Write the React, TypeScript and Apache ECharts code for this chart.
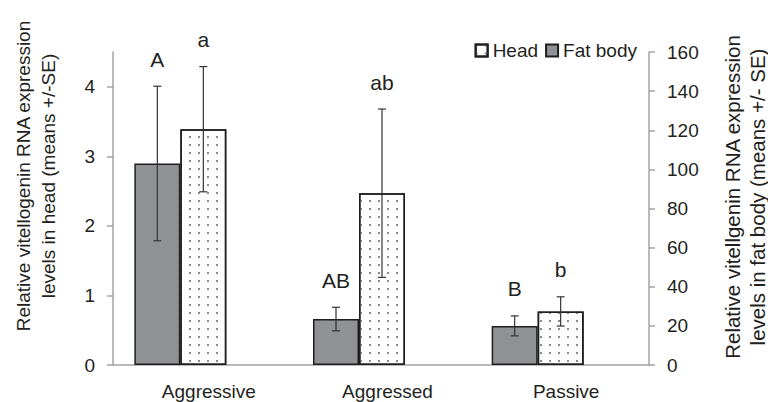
import React, { useEffect, useRef } from "react";
import * as echarts from "echarts";

const categories = ["Aggressive", "Aggressed", "Passive"];
const headValues = [3.39, 2.47, 0.77];
const headErrors = [0.9, 1.21, 0.21];
const headLetters = ["a", "ab", "b"];
const fatValues = [103, 23.5, 20];
const fatErrors = [39.5, 6, 5.1];
const fatLetters = ["A", "AB", "B"];
const leftTicks = [0, 1, 2, 3, 4];

const FONT = '"Liberation Sans", Arial, sans-serif';
const TEXT = "#231f20";
const AXIS = "#a3a3a3";

function errSeries(values: number[], errs: number[], letters: string[], yIdx: number, offset: number) {
  return {
    type: "custom",
    xAxisIndex: 1,
    yAxisIndex: yIdx,
    z: 10,
    encode: { x: 0, y: 1 },
    data: values.map((v, i) => [i, v, errs[i]]),
    renderItem: (params: any, api: any) => {
      const i = api.value(0);
      const v = api.value(1);
      const e = api.value(2);
      const top = api.coord([i, v + e]);
      const bot = api.coord([i, v - e]);
      const x = top[0] + offset;
      const cap = 4;
      const ls = { stroke: "#333", lineWidth: 1.2 };
      return {
        type: "group",
        children: [
          { type: "line", shape: { x1: x, y1: top[1], x2: x, y2: bot[1] }, style: ls },
          { type: "line", shape: { x1: x - cap, y1: top[1], x2: x + cap, y2: top[1] }, style: ls },
          { type: "line", shape: { x1: x - cap, y1: bot[1], x2: x + cap, y2: bot[1] }, style: ls },
          {
            type: "text",
            x: x,
            y: top[1] - 27,
            style: {
              text: letters[i],
              fill: TEXT,
              fontSize: 21,
              fontFamily: FONT,
              align: "center",
              verticalAlign: "middle",
            },
          },
        ],
      };
    },
  };
}

export default function App() {
  const ref = useRef<HTMLDivElement>(null);
  useEffect(() => {
    if (!ref.current) return;
    const chart = echarts.init(ref.current, undefined, { renderer: "svg" });
    const gridPos = { top: 52, bottom: 37 };
    chart.setOption({
      animation: false,
      backgroundColor: "#fff",
      textStyle: { fontFamily: FONT },
      grid: [
        { left: 113, right: 119, ...gridPos },
        { left: 91, right: 141, ...gridPos },
      ],
      legend: {
        data: ["Head", "Fat body"],
        right: 126,
        top: 36,
        itemWidth: 12,
        itemHeight: 12,
        itemGap: 7,
        icon: "rect",
        textStyle: { fontSize: 19, color: TEXT, fontFamily: FONT },
      },
      xAxis: [
        {
          type: "category",
          gridIndex: 0,
          data: categories,
          axisLine: { lineStyle: { color: AXIS, width: 1.5 } },
          axisTick: { show: false },
          axisLabel: { fontSize: 19, color: TEXT, margin: 17, padding: [0, 0, 0, 13], fontFamily: FONT },
        },
        { type: "category", gridIndex: 1, data: categories, show: false },
      ],
      yAxis: [
        {
          type: "value",
          gridIndex: 0,
          position: "left",
          min: 0,
          max: 4.5,
          interval: 1,
          splitLine: { show: false },
          axisLine: { show: true, lineStyle: { color: AXIS, width: 1.5 } },
          axisTick: { show: true, length: 6, customValues: leftTicks, lineStyle: { color: AXIS, width: 1.5 } },
          axisLabel: {
            fontSize: 19,
            color: TEXT,
            margin: 18,
            fontFamily: FONT,
            customValues: leftTicks,
            formatter: (v: number) => (v > 4 ? "" : String(v)),
          },
        },
        {
          type: "value",
          gridIndex: 0,
          position: "right",
          min: 0,
          max: 160,
          interval: 20,
          splitLine: { show: false },
          axisLine: { show: true, lineStyle: { color: AXIS, width: 1.5 } },
          axisTick: { show: true, length: 6, lineStyle: { color: AXIS, width: 1.5 } },
          axisLabel: { fontSize: 19, color: TEXT, margin: 18, fontFamily: FONT },
        },
        { type: "value", gridIndex: 1, min: 0, max: 4.5, show: false, splitLine: { show: false } },
        { type: "value", gridIndex: 1, min: 0, max: 160, show: false, splitLine: { show: false } },
      ],
      series: [
        {
          name: "Fat body",
          type: "bar",
          xAxisIndex: 1,
          yAxisIndex: 3,
          barWidth: 46,
          barGap: "0%",
          data: fatValues,
          itemStyle: { color: "#909195", borderColor: "#1e1e1e", borderWidth: 1.5 },
        },
        {
          name: "Head",
          type: "bar",
          xAxisIndex: 1,
          yAxisIndex: 2,
          barWidth: 46,
          barGap: "0%",
          data: headValues,
          itemStyle: {
            color: "#ffffff",
            borderColor: "#1e1e1e",
            borderWidth: 1.5,
            decal: {
              symbol: "rect",
              symbolSize: 1,
              color: "#8a8a8a",
              dashArrayX: [1.5, 6.8],
              dashArrayY: [1.5, 5.8],
              rotation: 0,
            },
          },
        },
        errSeries(fatValues, fatErrors, fatLetters, 3, -23),
        errSeries(headValues, headErrors, headLetters, 2, 23),
      ],
      graphic: [
        {
          type: "text",
          x: 36,
          y: 176,
          rotation: Math.PI / 2,
          style: {
            text: "Relative vitellogenin RNA expression\nlevels in head (means +/-SE)",
            fill: TEXT,
            fontSize: 19,
            fontFamily: FONT,
            lineHeight: 25,
            align: "center",
            verticalAlign: "middle",
          },
        },
        {
          type: "text",
          x: 745,
          y: 197,
          rotation: Math.PI / 2,
          style: {
            text: "Relative vitellgenin RNA expression\nlevels in fat body (means +/- SE)",
            fill: TEXT,
            fontSize: 20.5,
            fontFamily: FONT,
            lineHeight: 25,
            align: "center",
            verticalAlign: "middle",
          },
        },
      ],
    });
    return () => chart.dispose();
  }, []);
  return (
    <div
      ref={ref}
      style={{ position: "absolute", left: 0, top: 0, width: 768, height: 402 }}
    />
  );
}
